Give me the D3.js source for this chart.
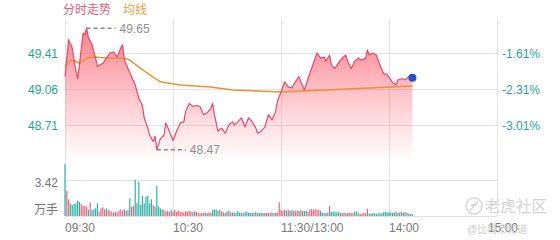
<!DOCTYPE html>
<html>
<head>
<meta charset="utf-8">
<script src="https://cdn.jsdelivr.net/npm/d3@7/dist/d3.min.js"></script>
<style>
    html, body { margin: 0; padding: 0; background: #fff; }
    #chart { width: 560px; height: 240px; }
    text { font-family: "Liberation Sans", Arial, "Noto Sans CJK SC", sans-serif; }
</style>
</head>
<body>
<div id="chart"></div>
<script>
"use strict"

// minutes from 09:30 (lunch break removed, 240 = 15:00)
let priceMinutes = [0, 2, 4, 6, 7, 8, 10, 11, 12, 13, 15, 17, 18, 19, 21, 23, 25, 27, 29, 31,
    32, 33, 35, 37, 39, 41, 43, 44, 46, 47, 49, 50, 51, 53, 55, 56, 58, 60, 62, 64,
    66, 67, 69, 71, 73, 75, 77, 79, 81, 82, 83, 85, 87, 89, 91, 93, 94, 96, 98, 100,
    102, 104, 106, 107, 109, 111, 113, 115, 117, 118, 120, 121, 122, 124, 126, 128, 130, 131, 133, 135,
    137, 140, 142, 144, 145, 147, 148, 150, 153, 156, 157, 159, 161, 163, 165, 167, 168, 169, 171, 173,
    175, 177, 179, 181, 182, 184, 185, 187, 189, 191, 193];

let prices = [49.18, 49.54, 49.46, 49.24, 49.16, 49.29, 49.60, 49.59, 49.65, 49.56, 49.49, 49.36, 49.28, 49.29, 49.31, 49.36, 49.41, 49.42, 49.37, 49.46,
    49.49, 49.34, 49.26, 49.18, 49.10, 48.97, 48.90, 48.78, 48.68, 48.61, 48.55, 48.60, 48.47, 48.58, 48.61, 48.73, 48.65, 48.56, 48.65, 48.73,
    48.74, 48.84, 48.92, 48.89, 48.90, 48.89, 48.81, 48.83, 48.87, 48.92, 48.81, 48.65, 48.68, 48.63, 48.71, 48.74, 48.71, 48.74, 48.78, 48.69,
    48.78, 48.74, 48.68, 48.63, 48.65, 48.69, 48.81, 48.76, 48.84, 48.94, 49.03, 49.08, 49.13, 49.08, 49.07, 49.13, 49.18, 49.13, 49.05, 49.16,
    49.26, 49.41, 49.36, 49.37, 49.33, 49.39, 49.29, 49.26, 49.34, 49.39, 49.33, 49.26, 49.33, 49.36, 49.34, 49.36, 49.44, 49.39, 49.41, 49.39,
    49.29, 49.21, 49.20, 49.15, 49.12, 49.10, 49.15, 49.16, 49.15, 49.18, 49.17];

let avgMinutes = [0, 3, 6, 8, 12, 16, 25, 33, 36, 42, 47, 53, 64, 81, 93, 120, 157, 193];
let avgPrices = [49.28, 49.34, 49.33, 49.31, 49.36, 49.37, 49.36, 49.36, 49.34, 49.26, 49.20, 49.13, 49.10, 49.08, 49.05, 49.03, 49.06, 49.09];

// volume per minute (万手), from minute 0
let volumes = [4.94, 2.41, 1.58, 1.20, 1.05, 1.14, 1.20, 1.46, 1.36, 1.14, 0.95, 0.95, 0.89,
    0.57, 1.27, 0.57, 0.63, 0.73, 1.20, 0.41, 0.73, 0.82, 0.63, 0.73, 0.57, 0.51,
    0.41, 0.32, 0.41, 0.32, 0.51, 0.63, 0.51, 0.63, 0.51, 0.57, 1.68, 0.89, 0.95,
    3.42, 1.20, 3.26, 1.05, 1.90, 1.20, 1.84, 1.90, 1.20, 1.58, 1.05, 0.89,
    2.85, 0.89, 0.73, 0.57, 0.57, 0.41, 0.51, 0.41, 0.57, 0.41, 0.57, 0.41, 0.51, 0.41, 0.41, 0.32,
    0.45, 0.40, 0.48, 0.42, 0.38, 0.45, 0.40, 0.30,
    0.25, 0.28, 0.30, 0.32, 0.28, 0.35, 0.30,
    0.55, 0.60, 0.63, 0.50, 0.58, 0.45,
    0.35, 0.30, 0.40, 0.52, 0.32, 0.35,
    0.30, 0.28, 0.45, 0.32, 0.30, 0.28, 0.35, 0.42, 0.30, 0.28, 0.32, 0.30, 0.40, 0.28, 0.30, 0.32, 0.28,
    0.30, 0.28, 0.32, 0.30, 0.35, 0.28, 0.30, 0.32,
    1.30,
    0.55, 0.50, 0.58, 0.52, 0.60, 0.48, 0.55, 0.50, 0.45, 0.52, 0.48,
    0.55, 0.50, 0.48, 0.52, 0.40,
    0.62, 0.65, 0.60, 0.64, 0.62, 0.58, 0.50,
    0.30, 0.32, 0.28, 0.35,
    0.95,
    0.40, 0.42, 0.38, 0.35, 0.40,
    0.30, 0.28, 0.32, 0.30, 0.28, 0.32, 0.30, 0.28,
    0.45, 0.42,
    0.25, 0.22, 0.25, 0.28, 0.24,
    0.70,
    0.25, 0.22, 0.28, 0.24, 0.22, 0.25, 0.28, 0.24,
    0.35, 0.38, 0.32, 0.36, 0.34, 0.30,
    0.32, 0.38, 0.30, 0.35, 0.40, 0.32, 0.38, 0.30,
    0.22, 0.20, 0.18];

// u = price up that minute, d = down
let volumeDirs = "duudddddduuuu" + "dudddduuuuduu" + "uduuuuududduu" + "ddddddddddud" + "dddduuuuduuuuuuu" +
    "uuuuduuu" + "uduuduu" + "ddddud" + "uudduu" + "dddddudddddududdd" + "uduududu" + "u" +
    "uuduudduuud" + "uuddu" + "uuuuuud" + "dudd" + "u" + "ddddd" + "uduuduuu" + "dd" + "uuuuu" + "u" +
    "dddddddd" + "dddddd" + "dudduddu" + "ddd";

let prevClose = 50.22;
let priceTicks = [49.41, 49.06, 48.71];
let volumeTicks = [3.42];
let timeTickMinutes = [0, 60, 120, 180, 240];
let timeTickLabels = ["09:30", "10:30", "11:30/13:00", "14:00", "15:00"];

let IntradayView = function(targetID) {

    let self = {
        targetSvg: null,
        x: null,
        y: null,
        yVol: null
    };

    init();

    function init() {
        self.targetSvg = d3.select(targetID).append("svg")
            .attr("width", 560)
            .attr("height", 240);

        self.x = d3.scaleLinear().domain([0, 240]).range([65, 497]);
        self.y = d3.scaleLinear().domain([48.36, 49.76]).range([161, 17]);
        self.yVol = d3.scaleLinear().domain([0, 6.84]).range([216, 144]);

        drawGrid();
        drawVolume();
        drawPrice();
        drawLabels();
        drawWatermark();
    }

    function drawGrid() {
        let grid = self.targetSvg.append("g")
            .style("stroke", "#e3e3e3")
            .style("stroke-width", "1px");

        grid.selectAll(".hPrice")
            .data(priceTicks)
            .enter().append("line")
            .attr("x1", self.x(0))
            .attr("x2", self.x(240))
            .attr("y1", d => Math.round(self.y(d)) + 0.5)
            .attr("y2", d => Math.round(self.y(d)) + 0.5);

        grid.selectAll(".hVol")
            .data(volumeTicks.concat([0]))
            .enter().append("line")
            .attr("x1", self.x(0))
            .attr("x2", self.x(240))
            .attr("y1", d => Math.round(self.yVol(d)) + 0.5)
            .attr("y2", d => Math.round(self.yVol(d)) + 0.5);

        grid.selectAll(".vTime")
            .data(timeTickMinutes)
            .enter().append("line")
            .attr("x1", d => Math.round(self.x(d)) + 0.5)
            .attr("x2", d => Math.round(self.x(d)) + 0.5)
            .attr("y1", 20)
            .attr("y2", self.yVol(0));
    }

    function drawVolume() {
        self.targetSvg.append("g")
            .selectAll("rect")
            .data(volumes)
            .enter().append("rect")
            .attr("x", (d, i) => self.x(i) - 0.6)
            .attr("y", d => self.yVol(d))
            .attr("width", 1.2)
            .attr("height", d => self.yVol(0) - self.yVol(d))
            .style("fill", (d, i) => volumeDirs[i] === "u" ? "#f0637a" : "#2bb3a6");
    }

    function drawPrice() {
        let pts = priceMinutes.map((m, i) => ({ m: m, p: prices[i] }));
        let avgPts = avgMinutes.map((m, i) => ({ m: m, p: avgPrices[i] }));

        let defs = self.targetSvg.append("defs");
        let grad = defs.append("linearGradient")
            .attr("id", "priceFill")
            .attr("gradientUnits", "userSpaceOnUse")
            .attr("x1", 0).attr("x2", 0)
            .attr("y1", self.y(49.76))
            .attr("y2", self.y(48.36));
        grad.append("stop").attr("offset", "0%").attr("stop-color", "#f85d6e").attr("stop-opacity", 0.85);
        grad.append("stop").attr("offset", "55%").attr("stop-color", "#f85d6e").attr("stop-opacity", 0.35);
        grad.append("stop").attr("offset", "100%").attr("stop-color", "#f85d6e").attr("stop-opacity", 0);

        let area = d3.area()
            .x(d => self.x(d.m))
            .y0(self.y(48.36))
            .y1(d => self.y(d.p));

        self.targetSvg.append("path")
            .attr("d", area(pts))
            .style("fill", "url(#priceFill)");

        let line = d3.line()
            .x(d => self.x(d.m))
            .y(d => self.y(d.p));

        self.targetSvg.append("path")
            .attr("d", line(avgPts))
            .style("stroke", "#f0902e")
            .style("stroke-width", "1.5px")
            .style("fill", "none");

        self.targetSvg.append("path")
            .attr("d", line(pts))
            .style("stroke", "#e8466a")
            .style("stroke-width", "1.2px")
            .style("stroke-linejoin", "round")
            .style("fill", "none");

        let last = pts[pts.length - 1];
        self.targetSvg.append("circle")
            .attr("cx", self.x(last.m))
            .attr("cy", self.y(last.p))
            .attr("r", 4)
            .style("fill", "#1f4fd6");

        // high / low markers
        let hi = pts.reduce((a, b) => b.p > a.p ? b : a);
        let lo = pts.reduce((a, b) => b.p < a.p ? b : a);
        [hi, lo].forEach(function(d) {
            self.targetSvg.append("line")
                .attr("x1", self.x(d.m))
                .attr("x2", self.x(d.m) + 29)
                .attr("y1", self.y(d.p))
                .attr("y2", self.y(d.p))
                .style("stroke", "#888")
                .style("stroke-width", "1.5px")
                .style("stroke-dasharray", "4,3");
            self.targetSvg.append("text")
                .attr("x", self.x(d.m) + 33)
                .attr("y", self.y(d.p) + 4.5)
                .style("font-size", "12px")
                .style("fill", "#8f8f8f")
                .text(d.p.toFixed(2));
        });
    }

    function drawLabels() {
        let svg = self.targetSvg;

        svg.append("text").attr("x", 63).attr("y", 14)
            .style("font-size", "12px").style("fill", "#ea5a78")
            .text("分时走势");
        svg.append("text").attr("x", 123).attr("y", 14)
            .style("font-size", "12px").style("fill", "#f0a040")
            .text("均线");

        svg.selectAll(".priceLabel")
            .data(priceTicks)
            .enter().append("text")
            .attr("x", 58)
            .attr("y", d => self.y(d) + 4.5)
            .attr("text-anchor", "end")
            .style("font-size", "12px")
            .style("fill", "#1ea597")
            .text(d => d.toFixed(2));

        svg.selectAll(".pctLabel")
            .data(priceTicks)
            .enter().append("text")
            .attr("x", 502)
            .attr("y", d => self.y(d) + 4.5)
            .style("font-size", "12px")
            .style("fill", "#1ea597")
            .text(d => ((d / prevClose - 1) * 100).toFixed(2) + "%");

        svg.selectAll(".volLabel")
            .data(volumeTicks)
            .enter().append("text")
            .attr("x", 58)
            .attr("y", d => self.yVol(d) + 7)
            .attr("text-anchor", "end")
            .style("font-size", "12px")
            .style("fill", "#777")
            .text(d => d.toFixed(2));

        svg.append("text").attr("x", 58).attr("y", self.yVol(0) - 2)
            .attr("text-anchor", "end")
            .style("font-size", "12px").style("fill", "#777")
            .text("万手");

        svg.selectAll(".timeLabel")
            .data(timeTickMinutes)
            .enter().append("text")
            .attr("x", (d, i) => i === timeTickMinutes.length - 1 ? self.x(d) - 9 : self.x(d))
            .attr("y", 232)
            .style("font-size", "12px")
            .style("fill", "#7a7a7a")
            .text((d, i) => timeTickLabels[i]);
    }

    function drawWatermark() {
        let g = self.targetSvg.append("g").style("opacity", 0.9);
        g.append("circle")
            .attr("cx", 474).attr("cy", 206).attr("r", 8)
            .style("fill", "none").style("stroke", "#d3d3d3").style("stroke-width", "1.5px");
        g.append("path")
            .attr("d", "M470,211 L478,201 M471,206 Q474,203 477,205")
            .style("fill", "none").style("stroke", "#d3d3d3").style("stroke-width", "1.5px");
        g.append("text").attr("x", 485).attr("y", 212)
            .style("font-size", "15.5px").style("fill", "#d0d0d0")
            .text("老虎社区");
        g.append("text").attr("x", 467).attr("y", 233)
            .style("font-size", "10px").style("fill", "#c8c8c8")
            .text("@比特币知道");
    }

    return {};
}

IntradayView("#chart");
</script>
</body>
</html>
